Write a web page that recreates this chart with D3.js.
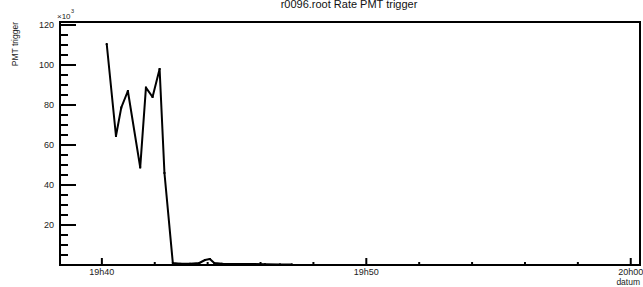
<!DOCTYPE html>
<head>
  <meta charset="utf-8">
  <script src="https://d3js.org/d3.v7.min.js"></script>
  <style>
    body { margin:0; background:#fff; }
    text { font-family: "Liberation Sans", Arial, sans-serif; }
  </style>
</head>
<body>
<div id="figure"></div>
<script>
// times (hh:mm:ss) and rate in units of 10^3
var times = ["19:40:11","19:40:32","19:40:44","19:40:59","19:41:27","19:41:40","19:41:55","19:42:11","19:42:22","19:42:41",
             "19:42:58","19:43:20","19:43:41","19:43:54","19:44:05","19:44:15","19:44:33","19:45:03","19:45:36","19:46:10","19:46:44","19:47:11"];
var rates = [110.5, 64.5, 78.7, 87, 48.8, 88.7, 84, 98, 46, 1.0,
             0.6, 0.6, 1.0, 2.5, 3.0, 1.0, 0.6, 0.5, 0.5, 0.4, 0.3, 0.3];
var yTicks = [20, 40, 60, 80, 100, 120];
var xDomain = ["19:38:25", "20:00:21"];
var title = "r0096.root Rate PMT trigger";

var parse = d3.timeParse("%H:%M:%S");
var data = times.map(function(t, i) { return {t: parse(t), v: rates[i]}; });

var W = 643, H = 287;
var L = 60, R = 640, T = 22, B = 265;

var svg = d3.select("#figure").append("svg")
  .attr("width", W).attr("height", H);

var x = d3.scaleTime().domain(xDomain.map(parse)).range([L, R]);
var y = d3.scaleLinear().domain([0, 121.5]).range([B, T]);

// frame
svg.append("rect")
  .attr("x", L).attr("y", T).attr("width", R - L).attr("height", B - T)
  .style("fill", "none").style("stroke", "#000").style("stroke-width", 2);

// y axis ticks
var yMinor = d3.range(5, 121, 5);
svg.selectAll(".ymin").data(yMinor).enter().append("line")
  .attr("x1", L).attr("x2", function(d) { return d % 20 == 0 ? L + 16 : L + 8; })
  .attr("y1", function(d) { return y(d); }).attr("y2", function(d) { return y(d); })
  .style("stroke", "#000").style("stroke-width", 2);

svg.selectAll(".ylab").data(yTicks).enter().append("text")
  .attr("x", 54).attr("y", function(d) { return y(d) + 3; })
  .attr("text-anchor", "end").style("font-size", "9px").style("fill", "#222")
  .text(function(d) { return d; });

svg.append("text").attr("x", 57).attr("y", 19).style("font-size", "8px").style("fill", "#222")
  .text("\u00d710");
svg.append("text").attr("x", 71).attr("y", 13).style("font-size", "5.5px").style("fill", "#222")
  .text("3");

// x axis ticks
var xt = d3.timeMinute.every(2).range(x.domain()[0], x.domain()[1]);
svg.selectAll(".xt").data(xt).enter().append("line")
  .attr("x1", function(d) { return x(d); }).attr("x2", function(d) { return x(d); })
  .attr("y1", B).attr("y2", function(d) { return d.getMinutes() % 10 == 0 ? B - 7 : B - 3; })
  .style("stroke", "#000").style("stroke-width", 2);

var fmt = d3.timeFormat("%Hh%M");
svg.selectAll(".xlab").data(xt.filter(function(d) { return d.getMinutes() % 10 == 0; })).enter().append("text")
  .attr("x", function(d) { return x(d); }).attr("y", 275)
  .attr("text-anchor", "middle").style("font-size", "9px").style("fill", "#222")
  .text(function(d) { return fmt(d); });

svg.append("text").attr("x", 640).attr("y", 285).attr("text-anchor", "end")
  .style("font-size", "8.5px").style("fill", "#222").text("datum");

svg.append("text").attr("transform", "translate(18,22) rotate(-90)")
  .attr("text-anchor", "end").style("font-size", "8.5px").style("fill", "#222")
  .text("PMT trigger");

svg.append("text").attr("x", 349).attr("y", 8).attr("text-anchor", "middle")
  .style("font-size", "11px").style("fill", "#111").text(title);

// data
var line = d3.line().x(function(d) { return x(d.t); }).y(function(d) { return y(d.v); });
svg.append("path").datum(data).attr("d", line)
  .style("fill", "none").style("stroke", "#000").style("stroke-width", 2)
  .style("stroke-linejoin", "round");

svg.selectAll(".pt").data(data).enter().append("rect")
  .attr("x", function(d) { return x(d.t) - 1; }).attr("y", function(d) { return y(d.v) - 1; })
  .attr("width", 2).attr("height", 2).style("fill", "#000");
</script>
</body>
